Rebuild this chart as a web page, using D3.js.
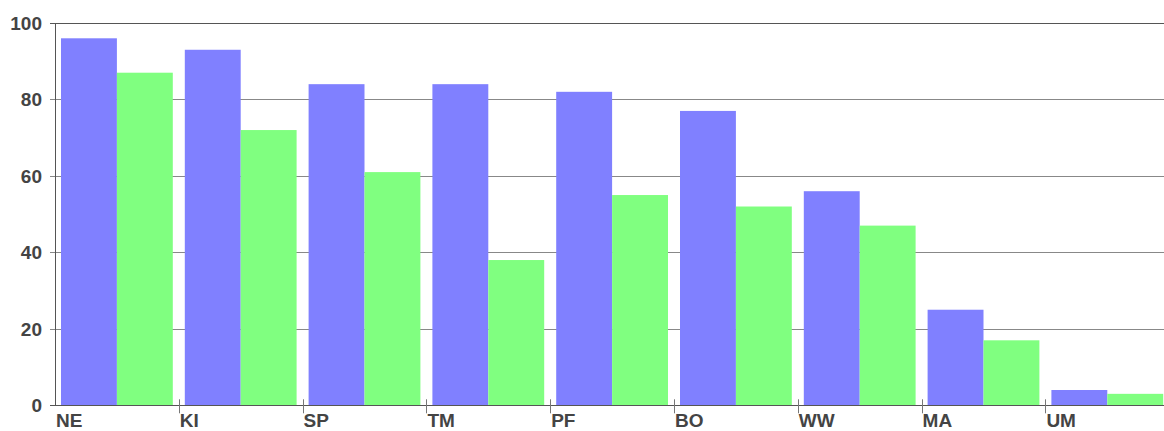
<!DOCTYPE html>
<html>
<head>
<meta charset="utf-8">
<script src="https://cdn.jsdelivr.net/npm/d3@7"></script>
<style>
  body { margin: 0; background: #fff; overflow: hidden; }
  svg { display: block; }
  text { font-family: "Liberation Sans", Arial, sans-serif; font-weight: bold; fill: #444; }
</style>
</head>
<body>
<div id="chart"></div>
<script>
// data
const categories = ["NE", "KI", "SP", "TM", "PF", "BO", "WW", "MA", "UM"];
const seriesA = [96, 93, 84, 84, 82, 77, 56, 25, 4];
const seriesB = [87, 72, 61, 38, 55, 52, 47, 17, 3];
const yTicks = [0, 20, 40, 60, 80, 100];

const chartW = 1164, chartH = 431;
const plotLeft = 55, plotTop = 23, plotBottom = 405.3;
const bandW = 123.8;

const svg = d3.select("#chart").append("svg")
    .attr("width", chartW)
    .attr("height", chartH);

const x = d3.scaleBand()
    .domain(categories)
    .range([plotLeft, plotLeft + bandW * categories.length])
    .paddingInner(0)
    .paddingOuter(0);

const y = d3.scaleLinear().domain([0, 100]).range([plotBottom, plotTop]);

// gridlines
svg.append("g").selectAll("line")
    .data(yTicks)
    .enter().append("line")
    .attr("x1", plotLeft - 5)
    .attr("x2", chartW)
    .attr("y1", d => Math.round(y(d)) + 0.5)
    .attr("y2", d => Math.round(y(d)) + 0.5)
    .attr("stroke", d => d === 100 || d === 0 ? "#555" : "#888")
    .attr("stroke-width", 1);

// y labels
svg.append("g").selectAll("text")
    .data(yTicks)
    .enter().append("text")
    .attr("x", 42)
    .attr("y", d => y(d) + 7)
    .attr("text-anchor", "end")
    .style("font-size", "19px")
    .text(d => d);

// bars
const pad = 6;
const barW = (bandW - 2 * pad) / 2;
const groups = svg.append("g").selectAll("g")
    .data(categories)
    .enter().append("g");

groups.append("rect")
    .attr("x", d => x(d) + pad)
    .attr("y", (d, i) => y(seriesA[i]))
    .attr("width", barW)
    .attr("height", (d, i) => plotBottom - y(seriesA[i]))
    .attr("fill", "#8080ff");

groups.append("rect")
    .attr("x", d => x(d) + pad + barW)
    .attr("y", (d, i) => y(seriesB[i]))
    .attr("width", barW)
    .attr("height", (d, i) => plotBottom - y(seriesB[i]))
    .attr("fill", "#80ff80");

// axis lines
svg.append("line")
    .attr("x1", plotLeft + 0.5).attr("x2", plotLeft + 0.5)
    .attr("y1", plotTop).attr("y2", plotBottom)
    .attr("stroke", "#555");
svg.append("line")
    .attr("x1", plotLeft).attr("x2", chartW)
    .attr("y1", Math.round(plotBottom) + 0.5).attr("y2", Math.round(plotBottom) + 0.5)
    .attr("stroke", "#555");

// x ticks at band starts
svg.append("g").selectAll("line")
    .data(categories.slice(1))
    .enter().append("line")
    .attr("x1", d => Math.round(x(d)) + 0.5)
    .attr("x2", d => Math.round(x(d)) + 0.5)
    .attr("y1", plotBottom - 6)
    .attr("y2", plotBottom + 8)
    .attr("stroke", "#777");

// x labels
svg.append("g").selectAll("text")
    .data(categories)
    .enter().append("text")
    .attr("x", d => x(d) + 1)
    .attr("y", 427)
    .style("font-size", "19px")
    .text(d => d);
</script>
</body>
</html>
